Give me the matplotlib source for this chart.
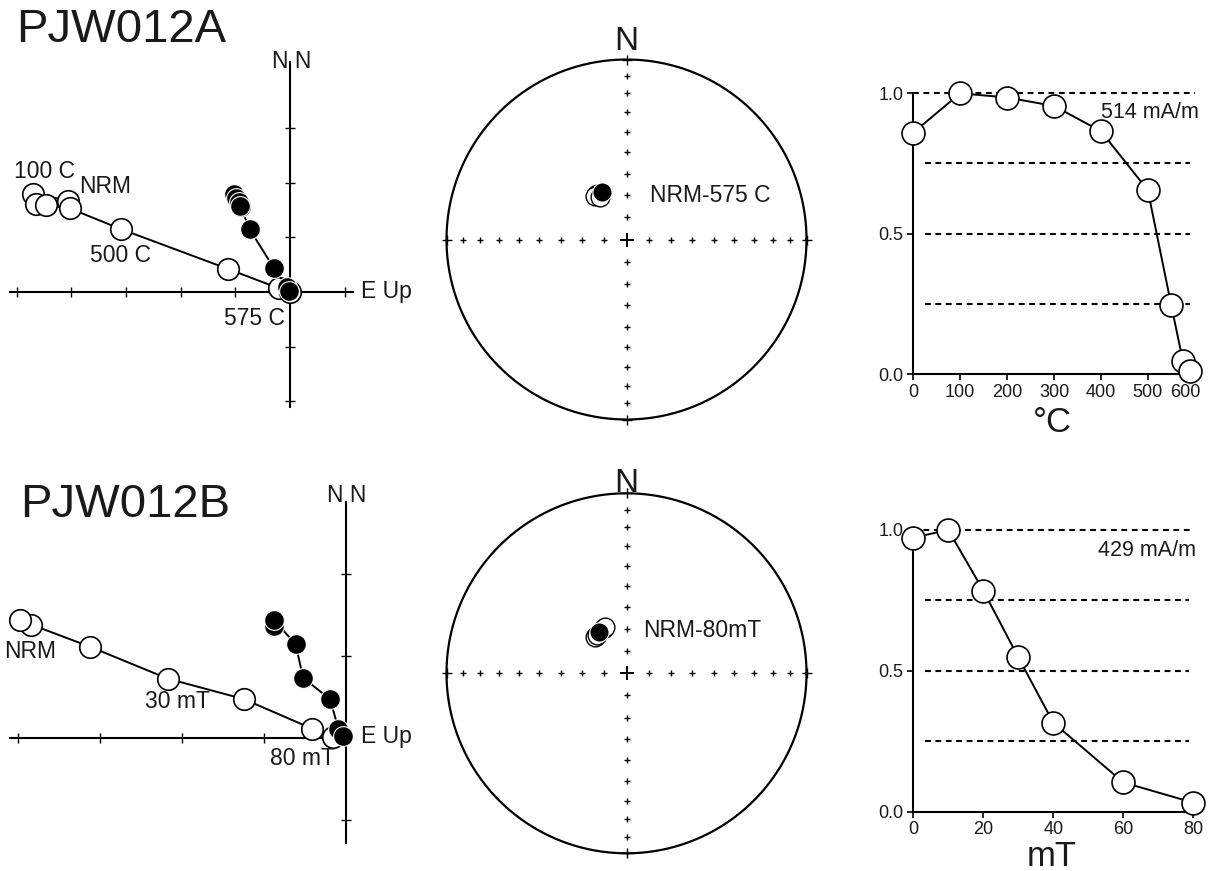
import numpy as np
import matplotlib.pyplot as plt
from matplotlib.transforms import ScaledTranslation

plt.rcParams['font.family'] = ['Liberation Sans', 'DejaVu Sans']

# --- PJW012A: thermal demagnetization ---
temp_steps = [0, 100, 200, 300, 400, 500, 550, 575, 590]
temp_int = [0.86, 1.0, 0.985, 0.955, 0.865, 0.655, 0.245, 0.045, 0.012]
a_hor_x = [-4.05, -4.69, -4.64, -4.46, -4.03, -3.09, -1.13, -0.21, 0.0]
a_hor_y = [1.67, 1.80, 1.61, 1.59, 1.53, 1.15, 0.42, 0.07, 0.0]
a_ver_x = [-0.90, -1.02, -0.98, -0.94, -0.91, -0.74, -0.29, -0.05, -0.02]
a_ver_y = [1.56, 1.79, 1.72, 1.65, 1.58, 1.15, 0.43, 0.09, 0.02]
a_dec_open = [326.6, 323.8, 327.6]
a_inc_open = [65.4, 65.8, 67.2]
a_dec_closed = [332.3]
a_inc_closed = [65.8]

# --- PJW012B: AF demagnetization ---
af_steps = [0, 10, 20, 30, 40, 60, 80]
af_int = [0.973, 1.0, 0.785, 0.548, 0.316, 0.104, 0.032]
b_hor_x = [-3.84, -3.97, -3.12, -2.17, -1.24, -0.41, -0.15]
b_hor_y = [1.37, 1.43, 1.11, 0.72, 0.47, 0.11, 0.01]
b_ver_x = [-0.88, -0.88, -0.61, -0.52, -0.19, -0.09, -0.03]
b_ver_y = [1.36, 1.44, 1.14, 0.73, 0.47, 0.11, 0.02]
b_dec_open = [319.1, 322.5, 332.2, 335.3]
b_inc_open = [68.4, 68.3, 67.5, 67.1]
b_dec_closed = [326.4]
b_inc_closed = [67.7]

W, H = 1211, 871
fig = plt.figure(figsize=(W / 100, H / 100), dpi=100)


def px_axes(x0, y0, w, h):
    return fig.add_axes([x0 / W, 1 - (y0 + h) / H, w / W, h / H])


def ptxt(x, y, s, size, ha='center', va='baseline'):
    fig.text(x / W, 1 - y / H, s, fontsize=size, ha=ha, va=va, color='#1a1a1a')


open_kw = dict(marker='o', mfc='white', mec='black', mew=1.2, color='black', lw=1.4)
closed_kw = dict(marker='o', mfc='black', mec='white', mew=0.8, color='black', lw=1.4)


def zijderveld(box, origin, scale, xb, yb, xt, yt, hx, hy, vx, vy, ms_o, ms_c):
    x0, y0, w, h = box
    ax = px_axes(x0, y0, w, h)
    ox, oy = origin
    ax.set_xlim((x0 - ox) / scale, (x0 + w - ox) / scale)
    ax.set_ylim((oy - (y0 + h)) / scale, (oy - y0) / scale)
    ax.spines['top'].set_visible(False)
    ax.spines['right'].set_visible(False)
    ax.spines['left'].set_position(('data', 0))
    ax.spines['bottom'].set_position(('data', 0))
    ax.spines['left'].set_bounds(*yb)
    ax.spines['bottom'].set_bounds(*xb)
    for s in ['left', 'bottom']:
        ax.spines[s].set_linewidth(1.5)
    ax.set_xticks(xt)
    ax.set_yticks(yt)
    ax.set_xticklabels([])
    ax.set_yticklabels([])
    ax.tick_params(direction='inout', length=7, width=1.0)
    ax.patch.set_visible(False)
    ax.plot(hx, hy, ms=ms_o, clip_on=False, zorder=4, **open_kw)
    ax.plot(vx, vy, ms=ms_c, clip_on=False, zorder=5, **closed_kw)
    return ax


def eqarea(dec, inc):
    d = np.radians(dec)
    r = np.sqrt(2) * np.sin(np.radians(90 - np.abs(np.asarray(inc))) / 2)
    return r * np.sin(d), r * np.cos(d)


def stereonet(center, R, dec_o, inc_o, dec_c, inc_c):
    cx, cy = center
    half = 1.25 * R
    ax = px_axes(cx - half, cy - half, 2 * half, 2 * half)
    ax.set_xlim(-1.25, 1.25)
    ax.set_ylim(-1.25, 1.25)
    ax.axis('off')
    th = np.linspace(0, 2 * np.pi, 500)
    ax.plot(np.cos(th), np.sin(th), color='black', lw=1.6)
    rr = np.sqrt(2) * np.sin(np.radians(90 - np.arange(10, 90, 10)) / 2)
    gx = np.concatenate([rr, -rr, 0 * rr, 0 * rr])
    gy = np.concatenate([0 * rr, 0 * rr, rr, -rr])
    ax.plot(gx, gy, '+', color='black', ms=4.5, mew=1.0)
    ax.plot([0], [0], '+', color='black', ms=10, mew=1.4)
    ax.plot([1, -1, 0, 0], [0, 0, 1, -1], '+', color='black', ms=7, mew=1.0)
    xo, yo = eqarea(dec_o, inc_o)
    ax.plot(xo, yo, ls='none', marker='o', ms=13.5, mfc='white', mec='black', mew=1.0)
    xc, yc = eqarea(dec_c, inc_c)
    ax.plot(xc, yc, ls='none', marker='o', ms=13.8, mfc='black', mec='white', mew=0.8)
    return ax


def decay(box, steps, vals, xmax, xticks, gl_end):
    x0, y0, w, h = box
    ax = px_axes(x0, y0, w, h)
    ax.set_xlim(0, xmax)
    ax.set_ylim(0, 1)
    ax.spines['top'].set_visible(False)
    ax.spines['right'].set_visible(False)
    for s in ['left', 'bottom']:
        ax.spines[s].set_linewidth(1.5)
    ax.set_xticks(xticks)
    ax.set_yticks([0, 0.5, 1.0])
    ax.set_yticklabels(['0.0', '0.5', '1.0'])
    ax.tick_params(direction='out', length=4, width=1.2, labelsize=13, pad=3,
                   labelcolor='#1a1a1a')
    dash = (0, (2.8, 2.2))
    ax.axhline(1.0, xmin=0, xmax=gl_end, color='black', lw=1.5, ls=dash, clip_on=False)
    for y in [0.25, 0.5, 0.75]:
        ax.axhline(y, xmin=0.042, xmax=gl_end - 0.015, color='black', lw=1.5, ls=dash)
    ax.plot(steps, vals, ms=16.5, clip_on=False, zorder=5, **open_kw)
    ax.patch.set_visible(False)
    return ax


# left column: vector endpoint diagrams
zijderveld((0, 40, 420, 380), (290, 292), 54.7, (-5.12, 1.15), (-2.1, 4.2),
           range(-5, 2), range(-2, 4), a_hor_x, a_hor_y, a_ver_x, a_ver_y, 15.5, 14.2)
zijderveld((0, 480, 420, 380), (345.7, 737.7), 82.0, (-4.1, 0.05), (-1.28, 2.88),
           range(-4, 1), range(-1, 3), b_hor_x, b_hor_y, b_ver_x, b_ver_y, 15.5, 14.2)

# middle column: equal-area projections
stereonet((626.5, 239.5), 180, a_dec_open, a_inc_open, a_dec_closed, a_inc_closed)
stereonet((626.5, 673.3), 180, b_dec_open, b_inc_open, b_dec_closed, b_inc_closed)

# right column: intensity decay
ax_t = decay((913.3, 93.3, 281.4, 280.7), temp_steps, temp_int, 600, range(0, 700, 100), 1.0)
decay((913.3, 530, 280, 281.7), af_steps, af_int, 80, range(0, 100, 20), 1.0)

# last temperature label sits a little to the left of its tick
last = ax_t.get_xticklabels()[-1]
last.set_transform(last.get_transform() + ScaledTranslation(-0.09, 0, fig.dpi_scale_trans))

# text
ptxt(121.5, 42, 'PJW012A', 34)
ptxt(125, 517, 'PJW012B', 34)

ptxt(45, 178, '100 C', 16.5)
ptxt(105, 193, 'NRM', 16.5)
ptxt(120, 262, '500 C', 16.5)
ptxt(254, 325, '575 C', 16.5)
ptxt(291.5, 68, 'N N', 16.5)
ptxt(386, 298, 'E Up', 16.5)

ptxt(30, 658, 'NRM', 16.5)
ptxt(177, 708, '30 mT', 16.5)
ptxt(302, 765, '80 mT', 16.5)
ptxt(346.5, 502, 'N N', 16.5)
ptxt(386, 743, 'E Up', 16.5)

ptxt(626.5, 50, 'N', 24)
ptxt(626.5, 492, 'N', 24)
ptxt(710, 201.7, 'NRM-575 C', 16.5)
ptxt(702, 637, 'NRM-80mT', 16.5)

ptxt(1150, 118.3, '514 mA/m', 15.5)
ptxt(1146.5, 556, '429 mA/m', 15.5)
ptxt(1052.5, 431.7, '°C', 25)
ptxt(1052, 866, 'mT', 25)

fig.savefig('out.png', dpi=100)
